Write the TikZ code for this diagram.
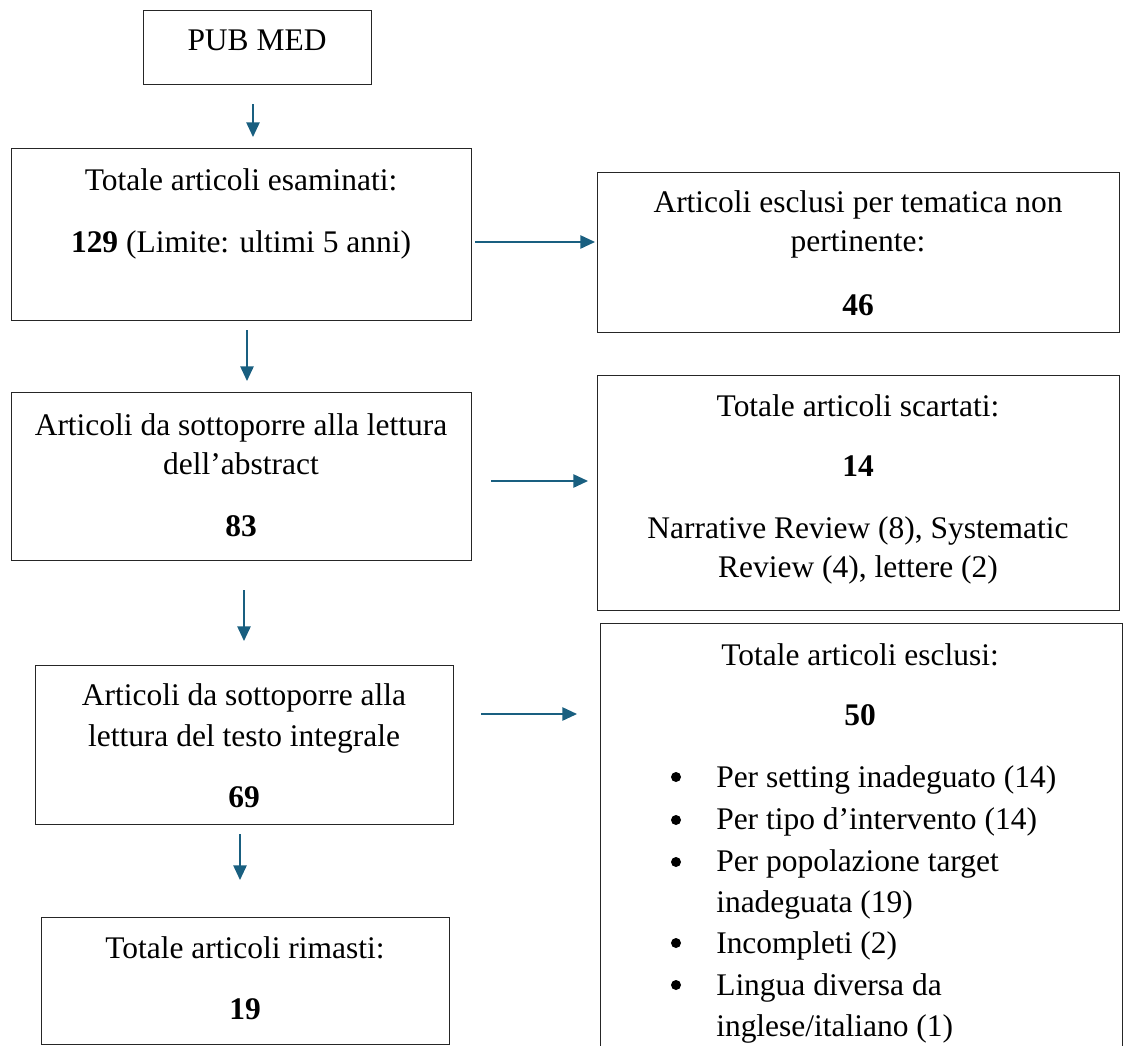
\documentclass[tikz,border=0pt]{standalone}
\usepackage{fontspec}
\setmainfont{Liberation Serif}
\usetikzlibrary{arrows.meta}
\definecolor{arrowblue}{RGB}{25,95,128}
\begin{document}
\begin{tikzpicture}[x=0.75pt,y=-0.75pt,
  box/.style={draw=black!85, line width=0.9pt, anchor=north west, inner sep=0pt},
  txt/.style={anchor=base, inner sep=0pt, font=\fontsize{23.6}{28}\selectfont},
  num/.style={anchor=base, inner sep=0pt, font=\fontsize{23.6}{28}\selectfont\bfseries},
  ltxt/.style={anchor=base west, inner sep=0pt, font=\fontsize{23.6}{28}\selectfont},
  bullet/.style={circle, fill=black, inner sep=0pt, minimum size=7.5pt},
  flow/.style={draw=arrowblue, line width=1.2pt, -{Triangle[length=11pt,width=10pt]}}]
\useasboundingbox (0,0) rectangle (1132,1046);

% boxes
\node[box, minimum width=171pt, minimum height=55.5pt] (pub) at (143,10) {};
\node[box, minimum width=345pt, minimum height=129pt] (tot) at (11,148) {};
\node[box, minimum width=391.5pt, minimum height=120pt] (excl1) at (597,172) {};
\node[box, minimum width=345pt, minimum height=126pt] (abs) at (11,392) {};
\node[box, minimum width=391.5pt, minimum height=176.25pt] (scart) at (597,375) {};
\node[box, minimum width=313.5pt, minimum height=119.25pt] (full) at (35,665) {};
\node[box, minimum width=391.5pt, minimum height=327.75pt] (excl2) at (600,623) {};
\node[box, minimum width=306pt, minimum height=95.25pt] (rim) at (41,917) {};

% texts
\node[txt] (tpub) at (257,50) {PUB MED};

\node[txt] (ttot1) at (241,190) {Totale articoli esaminati:};
\node[txt] (ttot2) at (241,252) {\textbf{129} (Limite: ultimi 5 anni)};

\node[txt] (tex1a) at (858,212) {Articoli esclusi per tematica non};
\node[txt] (tex1b) at (858,251) {pertinente:};
\node[num] (tex1c) at (858,315) {46};

\node[txt] (tabs1) at (241,435) {Articoli da sottoporre alla lettura};
\node[txt] (tabs2) at (241,474) {dell’abstract};
\node[num] (tabs3) at (241,536) {83};

\node[txt] (tsc1) at (858,416) {Totale articoli scartati:};
\node[num] (tsc2) at (858,476) {14};
\node[txt] (tsc3) at (858,538) {Narrative Review (8), Systematic};
\node[txt] (tsc4) at (858,577) {Review (4), lettere (2)};

\node[txt] (tfull1) at (244,705) {Articoli da sottoporre alla};
\node[txt] (tfull2) at (244,746) {lettura del testo integrale};
\node[num] (tfull3) at (244,807) {69};

\node[txt] (tex2a) at (860,665) {Totale articoli esclusi:};
\node[num] (tex2b) at (860,725) {50};
\node[bullet] (b1) at (676,777) {};
\node[ltxt] (l1) at (716,787) {Per setting inadeguato (14)};
\node[bullet] (b2) at (676,820) {};
\node[ltxt] (l2) at (716,829) {Per tipo d’intervento (14)};
\node[bullet] (b3) at (676,862) {};
\node[ltxt] (l3) at (716,871) {Per popolazione target};
\node[ltxt] (l3b) at (716,912) {inadeguata (19)};
\node[bullet] (b4) at (676,943) {};
\node[ltxt] (l4) at (716,953) {Incompleti (2)};
\node[bullet] (b5) at (676,985) {};
\node[ltxt] (l5) at (716,995) {Lingua diversa da};
\node[ltxt] (l5b) at (716,1036) {inglese/italiano (1)};

\node[txt] (trim1) at (245,958) {Totale articoli rimasti:};
\node[num] (trim2) at (245,1019) {19};

% arrows
\coordinate (a1s) at (253,104); \coordinate (a1e) at (253,137);
\coordinate (a2s) at (475,242); \coordinate (a2e) at (595,242);
\coordinate (a3s) at (247,330); \coordinate (a3e) at (247,381);
\coordinate (a4s) at (491,481); \coordinate (a4e) at (588,481);
\coordinate (a5s) at (244,590); \coordinate (a5e) at (244,641);
\coordinate (a6s) at (481,714); \coordinate (a6e) at (577,714);
\coordinate (a7s) at (240,834); \coordinate (a7e) at (240,880);
\draw[flow] (a1s) -- (a1e);
\draw[flow] (a2s) -- (a2e);
\draw[flow] (a3s) -- (a3e);
\draw[flow] (a4s) -- (a4e);
\draw[flow] (a5s) -- (a5e);
\draw[flow] (a6s) -- (a6e);
\draw[flow] (a7s) -- (a7e);
\end{tikzpicture}
\end{document}
